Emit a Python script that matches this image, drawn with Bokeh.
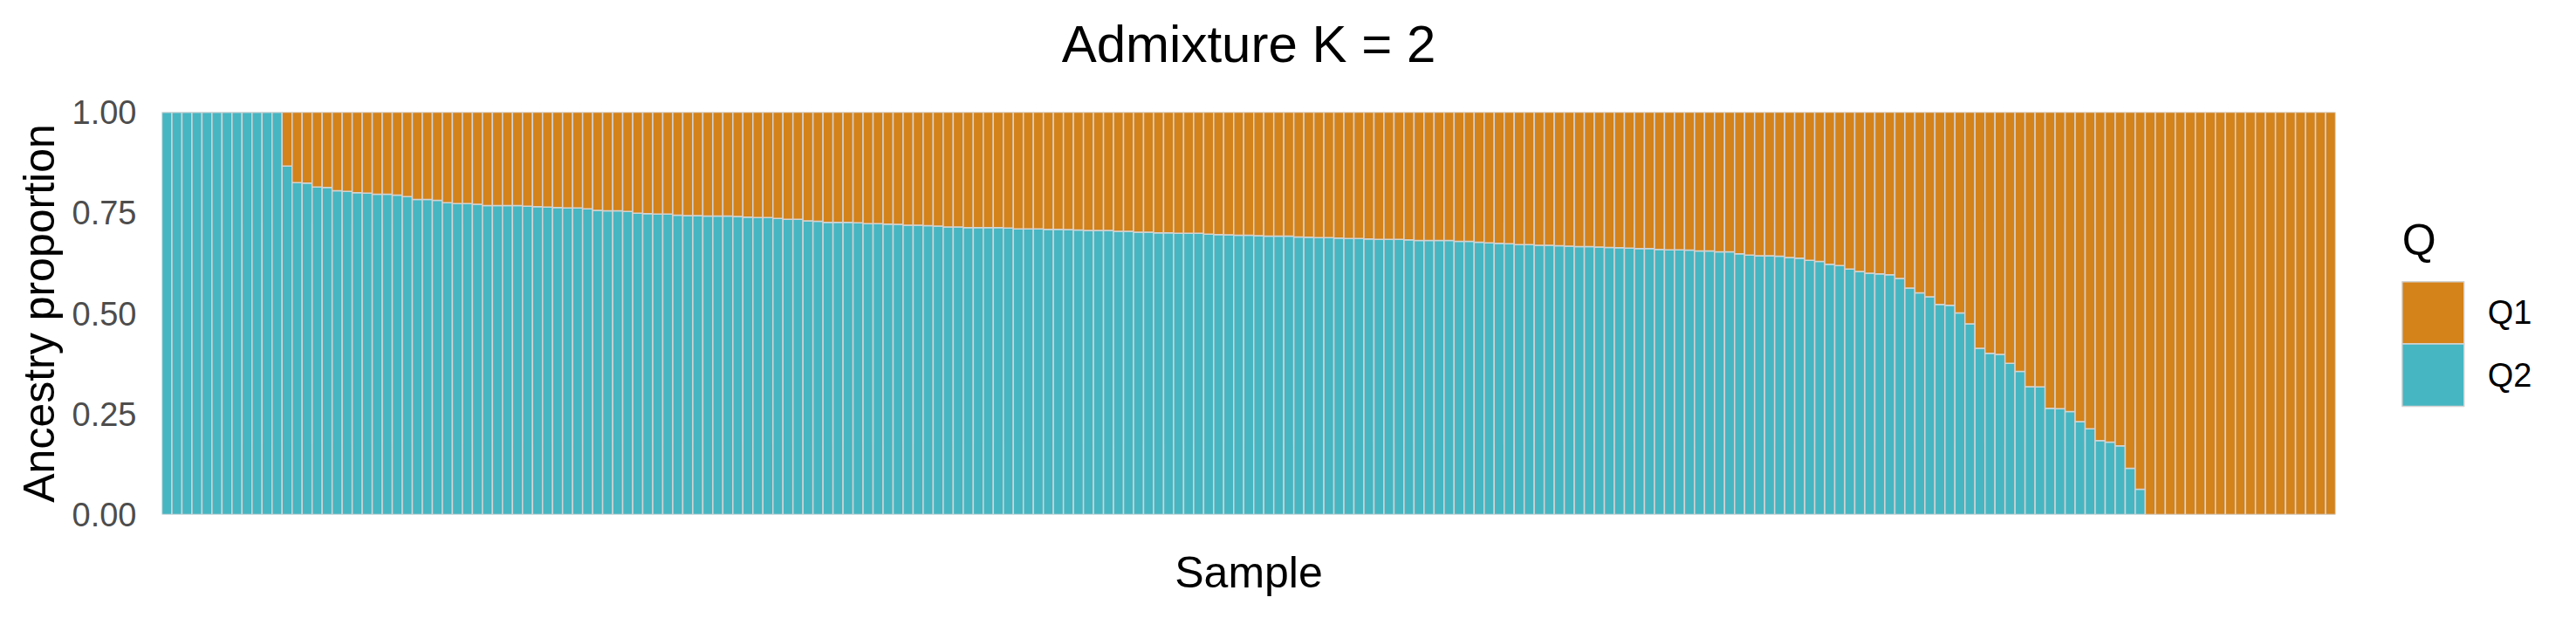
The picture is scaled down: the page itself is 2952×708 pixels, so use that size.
from bokeh.plotting import figure
from bokeh.layouts import row
from bokeh.models import Range1d, FixedTicker, NumeralTickFormatter, LinearAxis
from bokeh.core.properties import value
from bokeh.embed import file_html
from bokeh.resources import INLINE

# ---------------- data ----------------
title_text = "Admixture K = 2"
x_label = "Sample"
y_label = "Ancestry proportion"
legend_title = "Q"
series_names = ["Q1", "Q2"]
y_ticks = [0.0, 0.25, 0.5, 0.75, 1.0]
y_minor_ticks = [0.125, 0.375, 0.625, 0.875]

# Q2 ancestry proportion of each sample, in plotted order (Q1 = 1 - Q2)
q2 = [
    1.0, 1.0, 1.0, 1.0, 1.0, 1.0, 1.0, 1.0, 1.0, 1.0, 1.0, 1.0,
    0.866, 0.825, 0.824, 0.814, 0.813, 0.805, 0.803, 0.800, 0.799, 0.796,
    0.796, 0.794, 0.790, 0.783, 0.783, 0.781, 0.775, 0.773, 0.773, 0.771,
    0.768, 0.768, 0.768, 0.768, 0.766, 0.765, 0.764, 0.763, 0.762, 0.762,
    0.760, 0.756, 0.755, 0.755, 0.753, 0.749, 0.748, 0.747, 0.747, 0.744,
    0.743, 0.743, 0.742, 0.742, 0.742, 0.741, 0.739, 0.738, 0.738, 0.736,
    0.734, 0.734, 0.730, 0.729, 0.726, 0.726, 0.726, 0.725, 0.723, 0.723,
    0.722, 0.721, 0.719, 0.719, 0.718, 0.717, 0.715, 0.715, 0.713, 0.713,
    0.713, 0.713, 0.712, 0.710, 0.710, 0.710, 0.709, 0.709, 0.708, 0.707,
    0.706, 0.706, 0.706, 0.704, 0.704, 0.702, 0.702, 0.700, 0.700, 0.699,
    0.699, 0.699, 0.697, 0.696, 0.695, 0.694, 0.694, 0.693, 0.692, 0.692,
    0.692, 0.690, 0.689, 0.688, 0.688, 0.687, 0.686, 0.686, 0.685, 0.684,
    0.684, 0.684, 0.683, 0.681, 0.681, 0.681, 0.681, 0.679, 0.679, 0.677,
    0.675, 0.674, 0.673, 0.671, 0.671, 0.669, 0.669, 0.668, 0.667, 0.666,
    0.666, 0.665, 0.664, 0.663, 0.662, 0.661, 0.661, 0.659, 0.658, 0.658,
    0.657, 0.655, 0.655, 0.653, 0.653, 0.648, 0.645, 0.643, 0.643, 0.642,
    0.639, 0.637, 0.632, 0.629, 0.622, 0.619, 0.610, 0.604, 0.600, 0.598,
    0.596, 0.587, 0.563, 0.551, 0.541, 0.522, 0.520, 0.501, 0.474, 0.413,
    0.401, 0.398, 0.376, 0.356, 0.318, 0.317, 0.264, 0.263, 0.256, 0.231,
    0.213, 0.184, 0.180, 0.171, 0.115, 0.063,
    0.0, 0.0, 0.0, 0.0, 0.0, 0.0, 0.0, 0.0, 0.0, 0.0,
    0.0, 0.0, 0.0, 0.0, 0.0, 0.0, 0.0, 0.0, 0.0,
]
samples = list(range(len(q2)))
ones = [1.0] * len(q2)

# ---------------- style ----------------
FONT = "Liberation Sans"
C_Q1 = "#D4821A"
C_Q2 = "#46B6C2"
EDGE = "#D3D3D3"
series_colors = [C_Q1, C_Q2]

BORDER_TOP, BORDER_BOTTOM = 128, 103
W_MAIN, W_LEG, H = 2700, 236, 692

n = len(q2)
p = figure(width=W_MAIN, height=H, output_backend="svg", toolbar_location=None,
           x_range=Range1d(-0.5, n - 0.5), y_range=Range1d(0, 1),
           min_border_left=185, min_border_right=24,
           min_border_top=BORDER_TOP, min_border_bottom=BORDER_BOTTOM)
p.outline_line_color = None
p.background_fill_color = "white"

r2 = p.vbar(x=samples, bottom=0, top=q2, width=1.0,
            fill_color=C_Q2, line_color=EDGE, line_width=1.5)
r1 = p.vbar(x=samples, bottom=q2, top=ones, width=1.0,
            fill_color=C_Q1, line_color=EDGE, line_width=1.5)

# grid
p.xgrid.grid_line_color = None
p.ygrid.ticker = FixedTicker(ticks=y_ticks, minor_ticks=y_minor_ticks)
p.ygrid.grid_line_color = "#EBEBEB"
p.ygrid.minor_grid_line_color = "#F3F3F3"

# y axis
p.yaxis.ticker = FixedTicker(ticks=y_ticks, minor_ticks=y_minor_ticks)
p.yaxis.formatter = NumeralTickFormatter(format="0.00")
p.yaxis.axis_line_color = None
p.yaxis.major_tick_line_color = None
p.yaxis.minor_tick_line_color = None
p.yaxis.major_tick_out = 0
p.yaxis.major_label_standoff = 25
p.yaxis.major_label_text_font = FONT
p.yaxis.major_label_text_font_size = "38px"
p.yaxis.major_label_text_color = "#4D4D4D"
p.yaxis.axis_label = y_label
p.yaxis.axis_label_text_font = FONT
p.yaxis.axis_label_text_font_size = "50px"
p.yaxis.axis_label_text_font_style = "normal"
p.yaxis.axis_label_text_color = "black"
p.yaxis.axis_label_standoff = 7

# x axis
p.xaxis.ticker = FixedTicker(ticks=[])
p.xaxis.axis_line_color = None
p.xaxis.major_tick_line_color = None
p.xaxis.minor_tick_line_color = None
p.xaxis.major_label_text_font_size = "0px"
p.xaxis.axis_label = x_label
p.xaxis.axis_label_text_font = FONT
p.xaxis.axis_label_text_font_size = "50px"
p.xaxis.axis_label_text_font_style = "normal"
p.xaxis.axis_label_text_color = "black"
p.xaxis.axis_label_standoff = 38

# chart title, drawn as the label of a bare axis above the panel
top_axis = LinearAxis(ticker=FixedTicker(ticks=[]), axis_line_color=None,
                      major_tick_line_color=None, minor_tick_line_color=None,
                      major_label_text_font_size="0px",
                      major_tick_out=0, major_label_standoff=0,
                      axis_label=title_text, axis_label_text_font=FONT,
                      axis_label_text_font_size="60px",
                      axis_label_text_font_style="normal",
                      axis_label_text_color="black",
                      axis_label_standoff=45)
p.add_layout(top_axis, "above")

# ---------------- legend panel (separate figure, page-pixel coordinates) ----------------
# its frame is aligned with the main frame (same top/bottom borders), and the
# ranges are chosen so that one data unit equals one page pixel.
lg = figure(width=W_LEG, height=H, output_backend="svg", toolbar_location=None,
            x_range=Range1d(W_MAIN, W_MAIN + W_LEG),
            y_range=Range1d(H - BORDER_BOTTOM, BORDER_TOP),
            x_axis_type=None, y_axis_type=None,
            min_border_left=0, min_border_right=0,
            min_border_top=BORDER_TOP, min_border_bottom=BORDER_BOTTOM)
lg.outline_line_color = None
lg.grid.visible = False

sw_left, sw_w, sw_top, sw_h = 2752.3, 71, 322.3, 71.3
k = len(series_names)
lg.quad(left=[sw_left] * k, right=[sw_left + sw_w] * k,
        top=[sw_top + i * sw_h for i in range(k)],
        bottom=[sw_top + (i + 1) * sw_h for i in range(k)],
        fill_color=series_colors, line_color=EDGE, line_width=1.5)
lg.text(x=[sw_left + sw_w + 27] * k,
        y=[sw_top + (i + 0.5) * sw_h for i in range(k)],
        text=series_names, text_font=value(FONT), text_font_size="38px",
        text_baseline="middle", text_align="left", text_color="black")
lg.text(x=[sw_left], y=[274], text=[legend_title], text_font=value(FONT),
        text_font_size="50px", text_baseline="middle", text_align="left",
        text_color="black")

layout = row(p, lg)
open("out.html", "w").write(file_html(layout, INLINE))
